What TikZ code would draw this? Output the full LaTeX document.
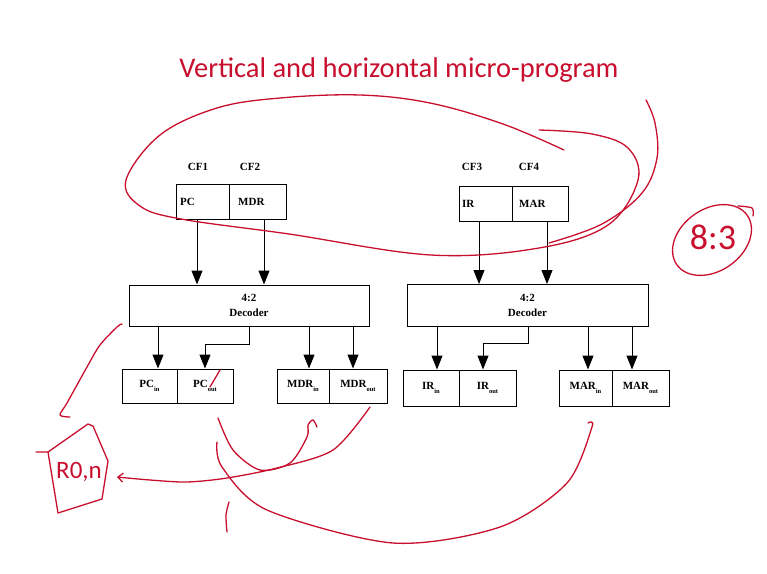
\documentclass[tikz,border=0pt]{standalone}
\usepackage{fontspec}
\setmainfont{Liberation Serif}
\newfontfamily\handfont{Carlito}
\usetikzlibrary{arrows.meta,calc}
\definecolor{ink}{RGB}{200,16,46}
\newcommand\lowsub[1]{\raisebox{-3.5pt}{\fontsize{6.5}{7}\selectfont #1}}
\begin{document}
\begin{tikzpicture}[x=1pt,y=-1pt,
  cell/.style={draw, line width=1pt, inner sep=0pt},
  lab/.style={font=\bfseries\fontsize{11}{12.5}\selectfont, inner sep=0pt},
  arr/.style={line width=1pt, -{Triangle[length=14pt,width=11pt]}},
  pen/.style={draw=ink, line width=1.3pt, line cap=round, line join=round},
]
\useasboundingbox[fill=white] (0,0) rectangle (767,573);

% title
\node[font=\handfont\fontsize{28.5}{32}\selectfont, text=ink] (title) at (399,70) {Vertical and horizontal micro-program};

% top registers
\node[cell, minimum width=53pt, minimum height=35pt] (pc)  at (202.5,201.5) {};
\node[cell, minimum width=57pt, minimum height=35pt] (mdr) at (257.5,201.5) {};
\node[cell, minimum width=53pt, minimum height=35pt] (ir)  at (485.5,203.5) {};
\node[cell, minimum width=56pt, minimum height=35pt] (mar) at (540,203.5) {};
\node[lab, anchor=west] (pcl)  at (180,201.5) {PC};
\node[lab, anchor=west] (mdrl) at (238,201.5) {MDR};
\node[lab, anchor=west] (irl)  at (462,203.5) {IR};
\node[lab, anchor=west] (marl) at (519,203.5) {MAR};
\node[lab] (cf1) at (198,167) {CF1};
\node[lab] (cf2) at (250,167) {CF2};
\node[lab] (cf3) at (472,167) {CF3};
\node[lab] (cf4) at (529,167) {CF4};

% decoders
\node[cell, minimum width=240pt, minimum height=41pt, align=center, lab, inner sep=0pt] (decL) at (249,305.5) {4:2\\[2pt]Decoder};
\node[cell, minimum width=241pt, minimum height=42pt, align=center, lab, inner sep=0pt] (decR) at (527.5,305.5) {4:2\\[2pt]Decoder};

% bottom registers
\node[cell, lab, minimum width=55pt, minimum height=34pt] (pcin)   at (149.5,386) {PC\lowsub{in}};
\node[cell, lab, minimum width=56pt, minimum height=34pt] (pcout)  at (205,386)   {PC\lowsub{out}};
\node[cell, lab, minimum width=52pt, minimum height=34pt] (mdrin)  at (303,386)   {MDR\lowsub{in}};
\node[cell, lab, minimum width=58pt, minimum height=34pt] (mdrout) at (358,386)   {MDR\lowsub{out}};
\node[cell, lab, minimum width=56pt, minimum height=36pt] (irin)   at (431,388)   {IR\lowsub{in}};
\node[cell, lab, minimum width=57pt, minimum height=36pt] (irout)  at (487.5,388) {IR\lowsub{out}};
\node[cell, lab, minimum width=53pt, minimum height=36pt] (marin)  at (585.5,388) {MAR\lowsub{in}};
\node[cell, lab, minimum width=57pt, minimum height=36pt] (marout) at (640.5,388) {MAR\lowsub{out}};

% arrows top
\draw[arr] (197,0 |- pc.south)  -- (197,0 |- decL.north);
\draw[arr] (264,0 |- mdr.south) -- (264,0 |- decL.north);
\draw[arr] (479,0 |- ir.south)  -- (479,0 |- decR.north);
\draw[arr] (547,0 |- mar.south) -- (547,0 |- decR.north);

% arrows bottom left
\draw[arr] (158,0 |- decL.south) -- (158,0 |- pcin.north);
\draw[arr] (249,0 |- decL.south) -- (249,344) -| (pcout.north);
\draw[arr] (309,0 |- decL.south) -- (309,0 |- mdrin.north);
\draw[arr] (353,0 |- decL.south) -- (353,0 |- mdrout.north);
% arrows bottom right
\draw[arr] (437,0 |- decR.south) -- (437,0 |- irin.north);
\draw[arr] (528,0 |- decR.south) -- (528,343) -| (483,0 |- irout.north);
\draw[arr] (588,0 |- decR.south) -- (588,0 |- marin.north);
\draw[arr] (632,0 |- decR.south) -- (632,0 |- marout.north);

% red annotations
\draw[pen] plot[smooth, tension=0.6] coordinates {(564,150) (503,124) (430,103) (360,95) (280,98) (217,108) (160,135) (126,180) (140,206) (181,219) (289,234) (431,255) (539,248) (608,225) (638,180) (628,148) (592,134) (539,130)};
\draw[pen] plot[smooth, tension=0.6] coordinates {(549,243) (602,224) (642,193) (657,158) (655,123) (646,100)};

% 8:3
\draw[pen, rotate around={35:(712,240)}] (712,240) ellipse [x radius=43, y radius=31];
\draw[pen] plot[smooth] coordinates {(738,206) (752,208) (753,216)};
\node[text=ink, font=\handfont\fontsize{36}{38}\selectfont, inner sep=0pt] (ratio) at (713,237) {8:3};

% R0,n
\draw[pen] (36,452) -- (48,452) -- (88,424) -- (93,426) -- (108,461) -- (102,499) -- (58,513) -- (48,452);
\node[text=ink, font=\handfont\fontsize{25}{27}\selectfont, inner sep=0pt] (ron) at (79,472) {R0,n};

% strokes
\draw[pen] plot[smooth] coordinates {(122,324) (117,327) (100,345) (87,367) (67,403) (60,415) (70,417)};
\draw[pen] (210,387) -- (220,370);
\draw[pen, -{Straight Barb[length=5pt,width=9pt]}] plot[smooth] coordinates {(370,407) (333,450) (277,468) (227,478) (187,482) (150,480) (117,477)};
\draw[pen] plot[smooth] coordinates {(218,418) (233,450) (260,470) (290,463) (307,437) (308,425) (313,420) (317,427)};
\draw[pen] plot[smooth] coordinates {(217,442) (222,467) (267,510) (393,543) (500,527) (567,483) (592,427) (588,423)};
\draw[pen] plot[smooth] coordinates {(229,502) (226,515) (227,532)};
\end{tikzpicture}
\end{document}
